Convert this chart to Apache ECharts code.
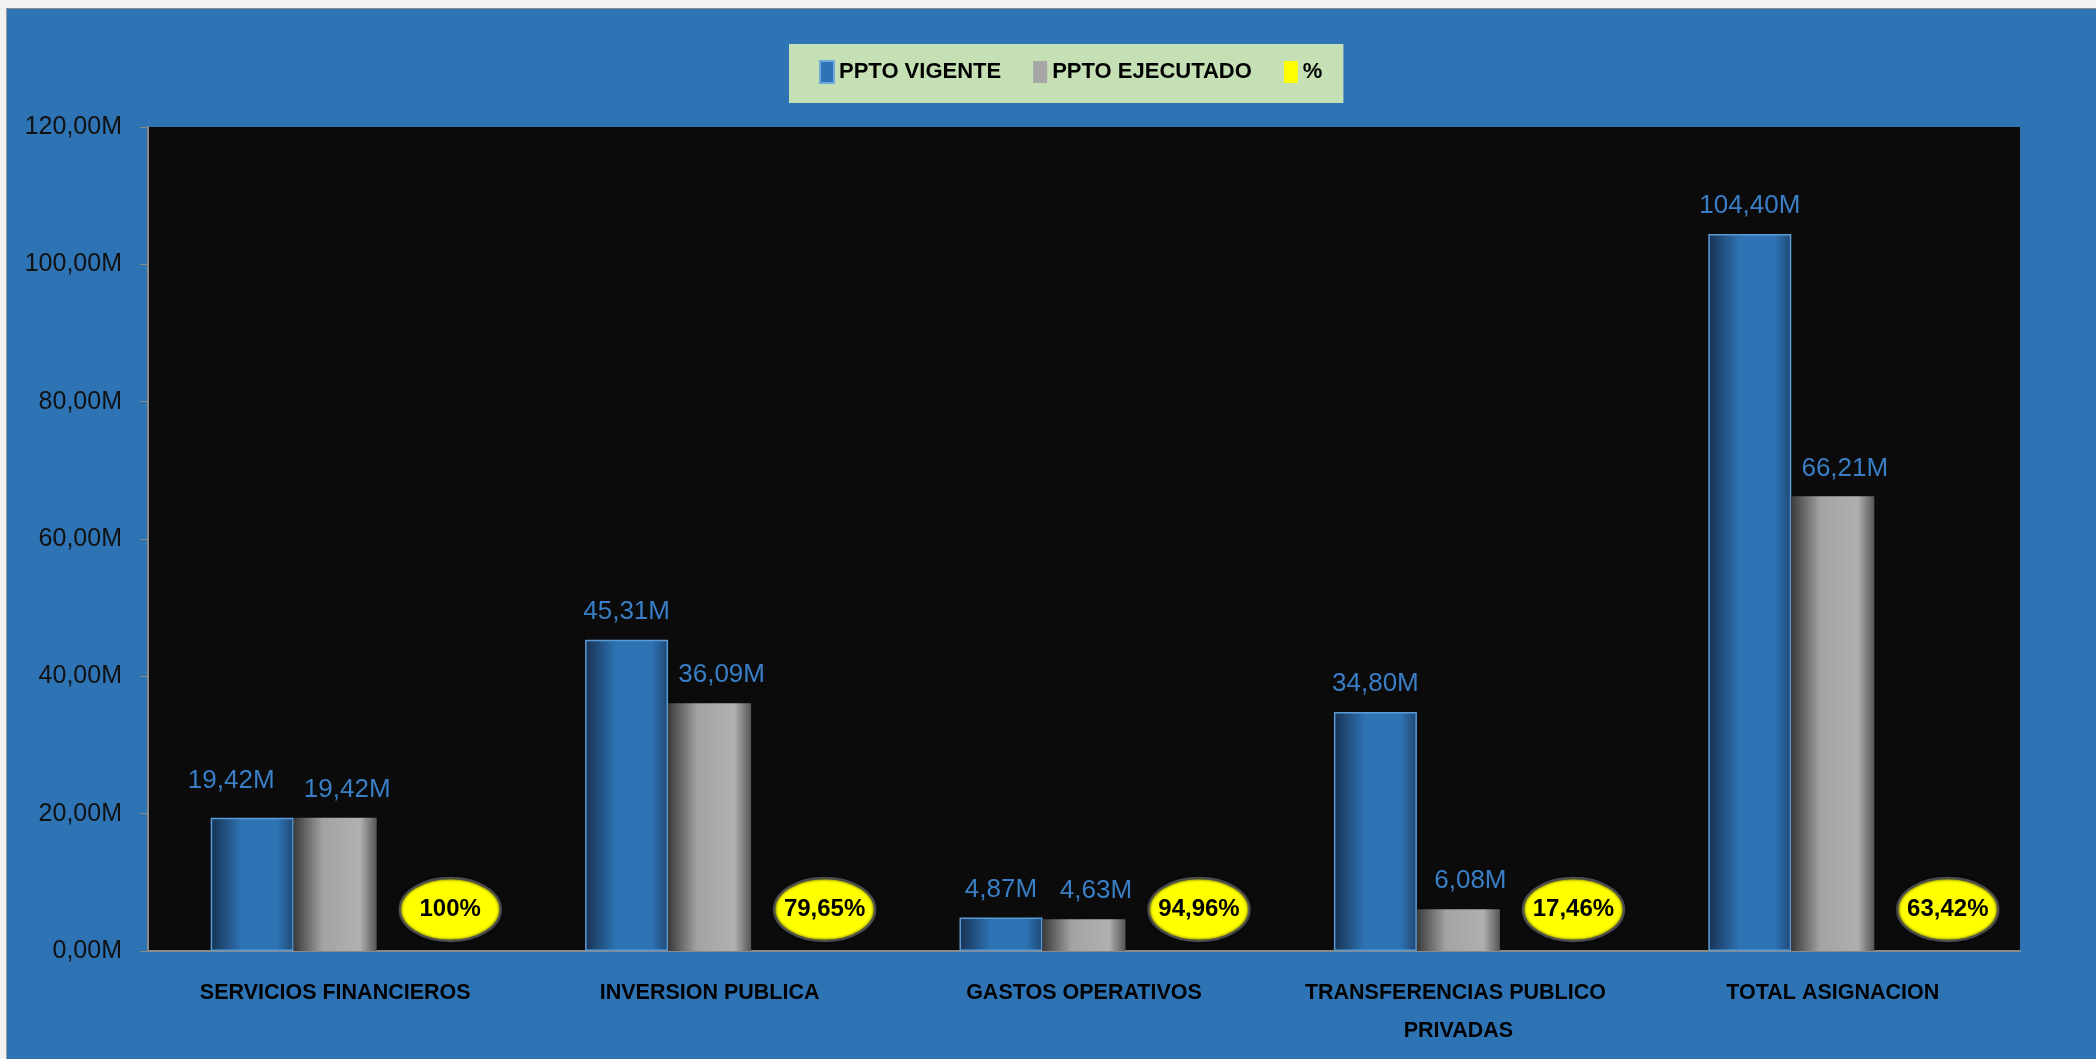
<!DOCTYPE html>
<html>
<head>
<meta charset="utf-8">
<script src="https://cdn.jsdelivr.net/npm/echarts@6/dist/echarts.min.js"></script>
<style>
  html, body { margin: 0; padding: 0; background: #f2f2f2; }
  #chart {
    position: absolute; left: 6px; top: 8px;
    width: 2089px; height: 1050px;
    border-top: 1px solid #8c8c8c; border-left: 1px solid #9a9a9a;
  }
</style>
</head>
<body>
<div id="chart"></div>
<script>
// categorias
var categories = ['SERVICIOS FINANCIEROS', 'INVERSION PUBLICA', 'GASTOS OPERATIVOS', 'TRANSFERENCIAS PUBLICO PRIVADAS', 'TOTAL ASIGNACION'];
// valores en millones
var pptoVigente = [19.42, 45.31, 4.87, 34.80, 104.40];
var pptoEjecutado = [19.42, 36.09, 4.63, 6.08, 66.21];
// porcentaje ejecutado
var porcentaje = [100, 79.65, 94.96, 17.46, 63.42];
// eje y
var yTicks = [0, 20, 40, 60, 80, 100, 120];

var FONT = '"Liberation Sans", Arial, sans-serif';

function fmtM(v) { return v.toFixed(2).replace('.', ',') + 'M'; }
function fmtPct(v) { return (v === 100 ? '100' : v.toFixed(2).replace('.', ',')) + '%'; }

// elipse amarilla para las etiquetas de %
var ell = document.createElement('canvas');
ell.width = 107; ell.height = 69;
var cx = ell.getContext('2d');
cx.shadowColor = 'rgba(0,0,0,0.8)';
cx.shadowBlur = 3;
cx.beginPath();
cx.ellipse(53.5, 34.5, 50.5, 31.5, 0, 0, Math.PI * 2);
cx.fillStyle = '#ffff00';
cx.fill();
cx.lineWidth = 2.5;
cx.strokeStyle = '#4d4d4d';
cx.stroke();

var blueGrad = new echarts.graphic.LinearGradient(0, 0, 1, 0, [
    { offset: 0, color: '#173252' },
    { offset: 0.38, color: '#2e74b5' },
    { offset: 0.8, color: '#2e74b5' },
    { offset: 1, color: '#1f4873' }
]);
var grayGrad = new echarts.graphic.LinearGradient(0, 0, 1, 0, [
    { offset: 0, color: '#3a3a3a' },
    { offset: 0.35, color: '#a3a3a3' },
    { offset: 0.8, color: '#b0b0b0' },
    { offset: 1, color: '#555555' }
]);

var valueLabel = {
    show: true, position: 'top', distance: 15,
    fontFamily: FONT, fontSize: 26, color: '#3a7fc6',
    formatter: function (p) { return fmtM(p.value); }
};

var chart = echarts.init(document.getElementById('chart'));
var option = {
    animation: false,
    backgroundColor: '#2e74b5',
    legend: {
        left: 782,
        top: 35,
        padding: [16, 21, 19, 30],
        backgroundColor: '#c5e0b4',
        icon: 'rect',
        itemGap: 32,
        itemWidth: 14,
        itemHeight: 22,
        textStyle: { fontFamily: FONT, fontWeight: 'bold', fontSize: 22, color: '#000' },
        data: [
            { name: 'PPTO VIGENTE', itemStyle: { color: '#2e74b5', borderColor: '#6fa8dc', borderWidth: 2 } },
            { name: 'PPTO EJECUTADO', itemStyle: { color: '#a6a6a6', borderWidth: 0 } },
            { name: '%', itemStyle: { color: '#ffff00', borderWidth: 0 } }
        ]
    },
    grid: {
        left: 141, right: 76, top: 118, bottom: 108,
        show: true, backgroundColor: '#0b0b0b', borderWidth: 0
    },
    xAxis: {
        type: 'category',
        data: categories,
        axisLine: { lineStyle: { color: '#8a8a8a', width: 2 } },
        axisTick: { length: 10, lineStyle: { color: '#8a8a8a' } },
        axisLabel: {
            interval: 0, margin: 23, width: 340, overflow: 'break', lineHeight: 38,
            fontFamily: FONT, fontWeight: 'bold', fontSize: 21.5, color: '#000'
        }
    },
    yAxis: [{
        type: 'value',
        min: yTicks[0], max: yTicks[yTicks.length - 1], interval: 20,
        axisLine: { show: true, lineStyle: { color: '#8a8a8a', width: 2 } },
        axisTick: { show: true, length: 8, lineStyle: { color: '#8a8a8a' } },
        splitLine: { show: false },
        axisLabel: { margin: 26, fontFamily: FONT, fontSize: 25, color: '#111', formatter: fmtM }
    }, {
        type: 'value', show: false, min: 0, max: 1e9
    }],
    series: [{
        name: 'PPTO VIGENTE',
        type: 'bar',
        barWidth: 83,
        barGap: '0%',
        // la primera etiqueta está desplazada en el original
        data: pptoVigente.map(function (v, i) {
            return i === 0 ? { value: v, label: { offset: [-21, -9] } } : v;
        }),
        itemStyle: { color: blueGrad, borderColor: '#5b9bd5', borderWidth: 1.5 },
        label: valueLabel
    }, {
        name: 'PPTO EJECUTADO',
        type: 'bar',
        barWidth: 83,
        barGap: '0%',
        data: pptoEjecutado,
        itemStyle: { color: grayGrad },
        label: echarts.util.extend({ offset: [12, 0] }, valueLabel)
    }, {
        name: '%',
        type: 'bar',
        yAxisIndex: 1,
        barWidth: 83,
        barGap: '0%',
        data: porcentaje,
        itemStyle: { color: '#ffff00' },
        label: {
            show: true, position: 'top', distance: 7, offset: [32, 0],
            width: 107, height: 69, lineHeight: 69, align: 'center', padding: 0,
            backgroundColor: { image: ell },
            fontFamily: FONT, fontWeight: 'bold', fontSize: 24, color: '#000',
            formatter: function (p) { return fmtPct(p.value); }
        }
    }]
};
chart.setOption(option);
</script>
</body>
</html>
